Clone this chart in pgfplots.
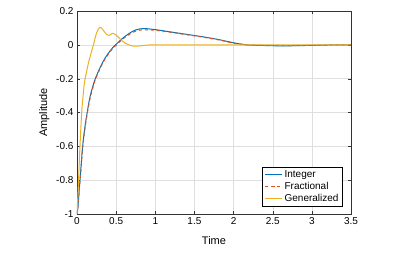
\documentclass[border=0pt]{standalone}
\usepackage{pgfplots}
\pgfplotsset{compat=1.18}
\usepackage{fontspec}
\setmainfont{Liberation Sans}
\definecolor{mblue}{rgb}{0,0.447,0.741}
\definecolor{mred}{rgb}{0.85,0.325,0.098}
\definecolor{myellow}{rgb}{0.929,0.694,0.125}
\begin{document}
\begin{tikzpicture}
\begin{axis}[
  name=ax,
  scale only axis,
  width=274pt, height=203pt,
  xmin=0, xmax=3.5, ymin=-1, ymax=0.2,
  xtick={0,0.5,...,3.5},
  ytick={-1,-0.8,-0.6,-0.4,-0.2,0,0.2},
  yticklabels={-1,-0.8,-0.6,-0.4,-0.2,0,0.2},
  xticklabels={0,0.5,1,1.5,2,2.5,3,3.5},
  tick align=inside,
  major tick length=3pt,
  grid=major,
  major grid style={gray!25, line width=0.4pt},
  axis line style={black!80, line width=0.5pt},
  tick style={black!80},
  font=\fontsize{10}{12}\selectfont,
  tick label style={font=\fontsize{10}{12}\selectfont},
  xlabel={Time}, ylabel={Amplitude},
  xlabel style={font=\fontsize{11}{13}\selectfont, yshift=-5pt},
  ylabel style={font=\fontsize{11}{13}\selectfont, yshift=0pt},
  legend pos=south east,
  legend style={font=\fontsize{10}{11}\selectfont, draw=black, line width=0.5pt, at={(0.97,0.035)}, anchor=south east, row sep=-1pt, inner sep=2pt},
  legend cell align=left,
  legend image post style={},
]
\addplot[mblue, line width=1pt, smooth] coordinates {
(0,-1) (0.01,-0.97) (0.02,-0.91) (0.038,-0.8) (0.055,-0.7) (0.072,-0.6) (0.1,-0.49) (0.13,-0.4) (0.17,-0.3) (0.23,-0.205) (0.3,-0.13) (0.35,-0.085) (0.4,-0.05) (0.45,-0.02) (0.5,0.003) (0.55,0.025) (0.6,0.045) (0.65,0.062) (0.7,0.077) (0.75,0.088) (0.8,0.094) (0.85,0.096) (0.9,0.095) (1.0,0.09) (1.1,0.083) (1.2,0.076) (1.4,0.062) (1.6,0.048) (1.8,0.032) (1.9,0.022) (2.0,0.012) (2.1,0.004) (2.2,-0.001) (2.4,-0.004) (2.6,-0.006) (2.8,-0.005) (3.0,-0.003) (3.2,-0.001) (3.5,0)
};
\addlegendentry{Integer}
\addplot[mred, line width=1pt, dashed, smooth] coordinates {
(0,-1) (0.01,-0.97) (0.02,-0.91) (0.038,-0.81) (0.055,-0.71) (0.072,-0.61) (0.1,-0.5) (0.13,-0.41) (0.17,-0.31) (0.23,-0.212) (0.3,-0.135) (0.35,-0.09) (0.4,-0.055) (0.45,-0.025) (0.5,-0.002) (0.55,0.02) (0.6,0.04) (0.65,0.056) (0.7,0.07) (0.75,0.081) (0.8,0.087) (0.85,0.089) (0.9,0.089) (1.0,0.086) (1.1,0.08) (1.2,0.074) (1.4,0.06) (1.6,0.046) (1.8,0.03) (1.9,0.02) (2.0,0.01) (2.1,0.003) (2.2,-0.001) (2.4,-0.003) (2.6,-0.004) (2.8,-0.004) (3.0,-0.002) (3.2,-0.001) (3.5,0)
};
\addlegendentry{Fractional}
\addplot[myellow, line width=1pt, smooth] coordinates {
(0,-1) (0.01,-0.9) (0.02,-0.8) (0.038,-0.6) (0.06,-0.4) (0.08,-0.29) (0.1,-0.21) (0.15,-0.1) (0.21,0) (0.25,0.07) (0.29,0.104) (0.33,0.09) (0.37,0.065) (0.41,0.056) (0.455,0.068) (0.5,0.058) (0.55,0.035) (0.6,0.015) (0.65,0.002) (0.7,-0.006) (0.76,-0.008) (0.85,-0.004) (0.95,0) (1.2,0) (2,0) (3.5,0)
};
\addlegendentry{Generalized}
\end{axis}
\pgfresetboundingbox
\path ([shift={(-77pt,-41pt)}]ax.south west) rectangle ([shift={(51pt,11pt)}]ax.north east);
\end{tikzpicture}
\end{document}
